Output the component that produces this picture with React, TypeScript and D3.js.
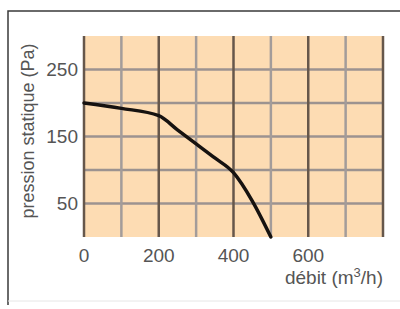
import * as d3 from "d3";
import React, { useRef, useEffect } from "react";

const width = 400;
const height = 309;
const margin = { top: 36, right: 17, bottom: 72, left: 84 };

// curve: débit (m3/h) -> pression statique (Pa)
const debit = [0, 100, 200, 250, 300, 350, 400, 450, 500];
const pression = [200, 192, 181, 160, 139, 118, 96, 54, 0];

const xTicks = [0, 200, 400, 600];
const yTicks = [50, 150, 250];
const xGrid = [0, 100, 200, 300, 400, 500, 600, 700, 800];
const yGrid = [50, 100, 150, 200, 250];

function Chart() {
  const ref = useRef(null);

  useEffect(() => {
    const svg = d3.select(ref.current);
    svg.selectAll("*").remove();

    const x = d3
      .scaleLinear()
      .domain([0, 800])
      .range([margin.left, width - margin.right]);
    const y = d3
      .scaleLinear()
      .domain([0, 300])
      .range([height - margin.bottom, margin.top]);

    // frame
    svg
      .append("path")
      .attr("d", `M8,305 L8,11 L400,11`)
      .attr("fill", "none")
      .attr("stroke", "#3a3a3a")
      .attr("stroke-width", 1.5);
    svg
      .append("line")
      .attr("x1", 8)
      .attr("x2", 400)
      .attr("y1", 301)
      .attr("y2", 301)
      .attr("stroke", "#e6e6e6")
      .attr("stroke-width", 1);

    // background
    svg
      .append("rect")
      .attr("x", x(0))
      .attr("y", y(300))
      .attr("width", x(800) - x(0))
      .attr("height", y(0) - y(300))
      .attr("fill", "#fddcb3");

    // grid
    svg
      .append("g")
      .selectAll("line")
      .data(yGrid)
      .join("line")
      .attr("x1", x(0))
      .attr("x2", x(800))
      .attr("y1", (d) => y(d))
      .attr("y2", (d) => y(d))
      .attr("stroke", "#9c9390")
      .attr("stroke-width", 2.5);

    svg
      .append("g")
      .selectAll("line")
      .data(xGrid)
      .join("line")
      .attr("x1", (d) => x(d))
      .attr("x2", (d) => x(d))
      .attr("y1", y(300))
      .attr("y2", y(0))
      .attr("stroke", (d) => (d % 200 === 0 ? "#66574b" : "#a39c9a"))
      .attr("stroke-width", 2.5);

    // curve
    const line = d3
      .line<number>()
      .x((d, i) => x(debit[i]))
      .y((d) => y(d))
      .curve(d3.curveMonotoneX);
    svg
      .append("path")
      .datum(pression)
      .attr("d", line)
      .attr("fill", "none")
      .attr("stroke", "#161210")
      .attr("stroke-width", 3.5)
      .attr("stroke-linecap", "round")
      .attr("stroke-linejoin", "round");

    const font = "'Liberation Sans', Arial, sans-serif";
    const col = "#555";

    // y tick labels
    svg
      .append("g")
      .selectAll("text")
      .data(yTicks)
      .join("text")
      .attr("x", 78)
      .attr("y", (d) => y(d))
      .attr("dy", "0.36em")
      .attr("text-anchor", "end")
      .style("font-family", font)
      .style("font-size", "19px")
      .attr("fill", col)
      .text((d) => d);

    // x tick labels
    svg
      .append("g")
      .selectAll("text")
      .data(xTicks)
      .join("text")
      .attr("x", (d) => x(d))
      .attr("y", 262)
      .attr("text-anchor", "middle")
      .style("font-family", font)
      .style("font-size", "19px")
      .attr("fill", col)
      .text((d) => d);

    // axis titles
    const xt = svg
      .append("text")
      .attr("x", 383)
      .attr("y", 284)
      .attr("text-anchor", "end")
      .style("font-family", font)
      .style("font-size", "19px")
      .attr("fill", col);
    xt.append("tspan").text("débit (m");
    xt.append("tspan").attr("dy", -7).style("font-size", "13px").text("3");
    xt.append("tspan").attr("dy", 7).text("/h)");

    svg
      .append("text")
      .attr("transform", "translate(34,131) rotate(-90)")
      .attr("text-anchor", "middle")
      .style("font-family", font)
      .style("font-size", "18px")
      .attr("fill", col)
      .text("pression statique (Pa)");
  }, []);

  return (
    <svg
      ref={ref}
      width={width}
      height={height}
      viewBox={`0 0 ${width} ${height}`}
      style={{ position: "absolute", left: 0, top: 0, background: "#fff" }}
    ></svg>
  );
}

export default function App() {
  return <Chart />;
}
